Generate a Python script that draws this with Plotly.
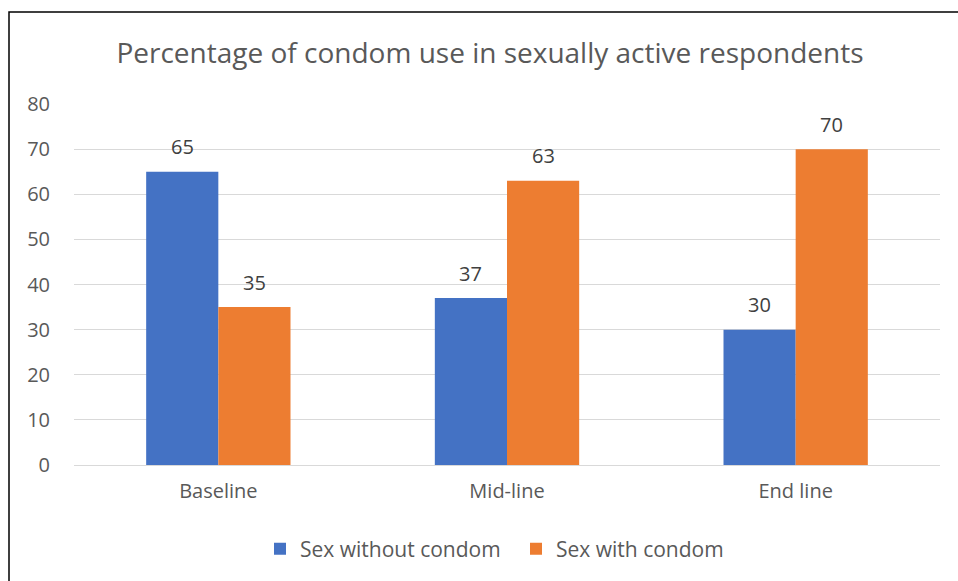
import plotly.graph_objects as go

categories = ["Baseline", "Mid-line", "End line"]
without_condom = [65, 37, 30]
with_condom = [35, 63, 70]
series_names = ["Sex without condom", "Sex with condom"]
colors = ["#4472C4", "#ED7D31"]
y_ticks = [0, 10, 20, 30, 40, 50, 60, 70, 80]

FONT = "Open Sans"
W, H = 958, 581
ML, MR, MT, MB = 74, 18, 104, 116
PW, PH = W - ML - MR, H - MT - MB

fig = go.Figure()
for name, vals, col in zip(series_names, [without_condom, with_condom], colors):
    fig.add_trace(go.Bar(x=categories, y=vals, name=name, marker_color=col,
                         marker_line_width=0))

# value labels above each bar (bars sit at ±0.125 of the category centre)
for i, vals in enumerate([without_condom, with_condom]):
    for j, v in enumerate(vals):
        fig.add_annotation(x=j + (-0.125 if i == 0 else 0.125), y=v, text=str(v),
                           showarrow=False, yshift=25, xref="x", yref="y",
                           font=dict(family=FONT, size=20, color="#404040"))

# outer chart frame
fig.add_shape(type="rect", xref="paper", yref="paper",
              x0=(9 - ML) / PW, x1=(W + 20 - ML) / PW,
              y0=-(MB + 20) / PH, y1=1 + (MT - 12) / PH,
              line=dict(color="#000000", width=1.5), fillcolor="rgba(0,0,0,0)")

fig.update_layout(
    width=W, height=H,
    margin=dict(l=ML, r=MR, t=MT, b=MB),
    paper_bgcolor="white", plot_bgcolor="white",
    title=dict(text="Percentage of condom use in sexually active respondents",
               x=490 / W, xanchor="center", y=1 - 53 / H, yanchor="middle",
               font=dict(family=FONT, size=28, color="#595959")),
    barmode="group", bargap=0.5, bargroupgap=0,
    xaxis=dict(type="category", range=[-0.5, 2.5], showgrid=False,
               showline=False, ticks="", ticklabelstandoff=12,
               tickfont=dict(family=FONT, size=20, color="#595959")),
    yaxis=dict(range=[0, 80], tickvals=y_ticks, showgrid=True,
               gridcolor="#D9D9D9", gridwidth=1, zeroline=True,
               zerolinecolor="#D9D9D9", zerolinewidth=1, showline=False,
               ticks="", ticklabelstandoff=23,
               tickfont=dict(family=FONT, size=20, color="#595959")),
    legend=dict(orientation="h", x=(516 - ML) / PW, xanchor="center",
                y=-(549 - 465) / PH, yanchor="middle",
                font=dict(family=FONT, size=21, color="#595959"),
                itemwidth=30, traceorder="normal", entrywidth=211),
    showlegend=True,
)

fig.write_html("out.html")
